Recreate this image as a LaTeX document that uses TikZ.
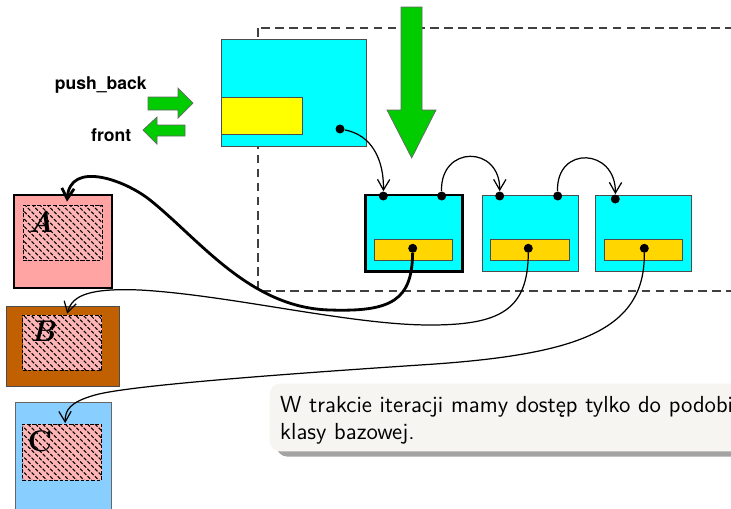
\documentclass[tikz,border=0pt]{standalone}
\usepackage{fontspec}
\newfontfamily\labelfont{TeX Gyre Heros}
\usetikzlibrary{arrows.meta,patterns.meta,shadows,calc}

\definecolor{cellcyan}{RGB}{0,255,255}
\definecolor{headyellow}{RGB}{255,255,0}
\definecolor{subgold}{RGB}{255,214,0}
\definecolor{pushgreen}{RGB}{0,204,0}
\definecolor{objpink}{RGB}{255,163,163}
\definecolor{objbrown}{RGB}{192,96,0}
\definecolor{objblue}{RGB}{136,206,255}
\definecolor{basepink}{RGB}{255,181,181}
\definecolor{notebg}{RGB}{247,245,241}

\begin{document}
\begin{tikzpicture}[x=0.02cm, y=-0.02cm, every node/.style={font=\small},
  cell/.style={draw=black!70, fill=cellcyan, inner sep=0pt, minimum width=1.92cm, minimum height=1.52cm},
  subbox/.style={draw=black!70, fill=subgold, inner sep=0pt, minimum width=1.57cm, minimum height=0.41cm},
  dot/.style={circle, fill=black, inner sep=0pt, minimum size=0.18cm},
  objbox/.style={inner sep=0pt, minimum width=1.92cm},
  basepart/.style={draw, dash pattern=on 2pt off 1pt, fill=basepink,
    postaction={pattern={Lines[angle=-45,distance=3pt,line width=0.6pt]}},
    inner sep=0pt, minimum width=1.58cm, minimum height=1.1cm},
  letter/.style={font=\fontsize{17}{17}\selectfont\bfseries},
  ptr/.style={-{Straight Barb[length=6pt,width=7pt]}, line width=0.7pt},
  pushar/.style={fill=pushgreen, draw=black!60, line width=0.4pt},
  frame/.style={draw=black!75, line width=0.6pt, dash pattern=on 5pt off 3pt},
  note/.style={fill=notebg, rounded corners=6pt, inner xsep=6pt, inner ysep=4pt,
    drop shadow={shadow xshift=4pt, shadow yshift=-3pt, fill=black!60, opacity=0.6},
    text width=11cm, align=left, font=\sffamily\fontsize{13.2}{15.3}\selectfont}]

\useasboundingbox (0,0) rectangle (731,508);

% FRAME
\draw[frame] (258,28) rectangle (760,291);

% LIST HEAD
\node[cell, minimum width=2.886cm, minimum height=2.154cm] (list) at (293.8,92.8) {};
\node[subbox, fill=headyellow, minimum width=1.612cm, minimum height=0.754cm] (listhd) at (262,115.8) {};
\node[dot] (hd) at (340,129) {};

% BIG ARROW
\filldraw[pushar] (401,7) -- (422,7) -- (422,110) -- (436,110) -- (411.7,158)
  -- (387,110) -- (401,110) -- cycle;

% PUSH_BACK / FRONT
\node[font=\labelfont\bfseries\fontsize{10}{12}\selectfont, anchor=base] (pb) at (100.8,89.5) {push\_back};
\node[font=\labelfont\bfseries\fontsize{10}{12}\selectfont, anchor=base] (fr) at (111.2,141.5) {front};
\filldraw[pushar] (148,97) -- (178,97) -- (178,88) -- (193,103) -- (178,118)
  -- (178,110) -- (148,110) -- cycle;
\filldraw[pushar] (185,125) -- (157,125) -- (157,117) -- (143,130) -- (157,144)
  -- (157,136) -- (185,136) -- cycle;

% CELL 1
\node[cell, draw=black, line width=1.6pt, minimum width=1.94cm, minimum height=1.534cm] (n1) at (414.2,233.3) {};
\node[subbox] (s1) at (413.5,249.7) {};
\node[dot] (g1) at (412.7,248.3) {};
\node[dot] (n1a) at (383.3,196) {};
\node[dot] (n1b) at (441.7,196) {};

% CELL 2
\node[cell] (n2) at (530.3,233) {};
\node[subbox] (s2) at (529.7,249.7) {};
\node[dot] (g2) at (528.3,248.3) {};
\node[dot] (n2a) at (499.7,196) {};
\node[dot] (n2b) at (557.7,196) {};

% CELL 3
\node[cell] (n3) at (643.5,233) {};
\node[subbox] (s3) at (643.3,249.7) {};
\node[dot] (g3) at (644.3,248.3) {};
\node[dot] (n3a) at (615.3,199) {};

% OBJECTS
\node[objbox, draw=black, line width=1.2pt, fill=objpink, minimum width=1.954cm, minimum height=1.86cm] (oA) at (62.9,241.5) {};
\node[basepart] (sA) at (62.5,232.5) {};
\node[letter, font=\fontsize{17}{17}\selectfont\bfseries\itshape] (lA) at (41,222) {A};

\node[objbox, draw=black!70, fill=objbrown, minimum width=2.266cm, minimum height=1.614cm] (oB) at (62.7,346.3) {};
\node[basepart] (sB) at (62.2,342.5) {};
\node[letter, font=\fontsize{17}{17}\selectfont\bfseries\itshape] (lB) at (43,331) {B};

\node[objbox, draw=black!60, fill=objblue, minimum width=1.92cm, minimum height=2.36cm] (oC) at (63,461) {};
\node[basepart, minimum height=1.11cm] (sC) at (62.2,452.2) {};
\node[letter] (lC) at (40,441) {C};

% POINTERS
\draw[ptr] (hd) .. controls (372,135) and (384,160) .. (n1a);
\draw[ptr] (n1b) .. controls (440,145) and (500,145) .. (n2a);
\draw[ptr] (n2b) .. controls (556,145) and (616,148) .. (n3a);

\draw[ptr, line width=1.6pt] (g1) .. controls (412,300) and (392,312) .. (330,310)
  .. controls (250,308) and (200,240) .. (150,200)
  .. controls (125,180) and (70,160) .. ($(sA.north)+(4.5,-3)$);
\draw[ptr] (g2) .. controls (528,310) and (500,325) .. (430,325)
  .. controls (350,325) and (230,295) .. (140,290)
  .. controls (90,288) and (72,295) .. ($(sB.north)+(5,-1)$);
\draw[ptr] (g3) .. controls (645,330) and (580,355) .. (420,365)
  .. controls (300,373) and (130,385) .. (95,395)
  .. controls (70,402) and (65,410) .. ($(sC.north)+(3,-1)$);

% NOTE
\node[note, anchor=north west] (msg) at (269.3,383.3)
  {\rule{0pt}{12.5pt}W trakcie iteracji mamy dostęp tylko do podobi\\klasy bazowej.};

\end{tikzpicture}
\end{document}
